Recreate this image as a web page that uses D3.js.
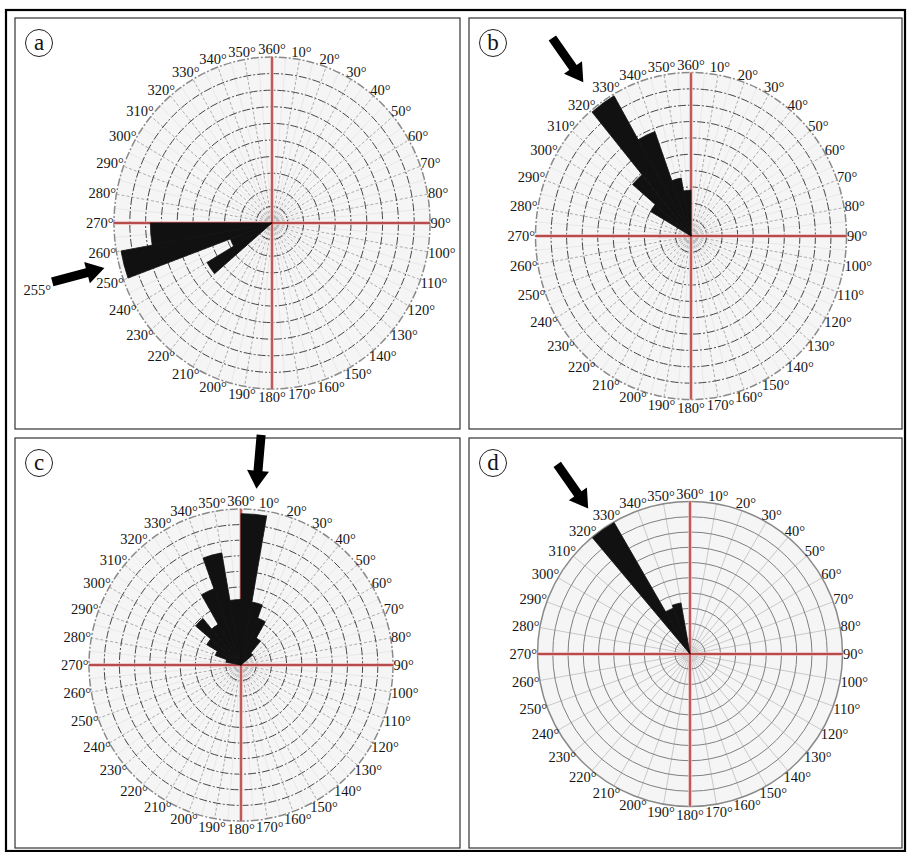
<!DOCTYPE html>
<html>
<head>
<meta charset="utf-8">
<script src="https://cdn.jsdelivr.net/npm/d3@7/dist/d3.min.js"></script>
<style>
  body { margin: 0; background: #fff; }
  text { font-family: 'Liberation Serif', 'DejaVu Serif', serif; fill: #151515; }
</style>
</head>
<body>
<svg id="chart" width="907" height="852"></svg>
<script>
// degree labels round each rose, clockwise from north
var degreeLabels = d3.range(10, 361, 10)
// grid rings (frequency units)
var ringValues = d3.range(1, 11)

// petals: [bin start in degrees, length in ring units], each bin 10 degrees wide
var roseA = [[230, 4.75], [240, 2.8], [250, 9.7], [260, 7.7]]
var roseB = [[300, 3.0], [310, 4.9], [320, 9.9], [330, 6.8], [340, 3.6], [350, 2.8]]
var roseC = [[280, 1.0], [290, 1.8], [300, 2.6], [310, 3.9], [320, 3.0], [330, 5.2],
             [340, 7.3], [350, 4.2], [0, 9.7], [10, 4.1], [20, 3.2], [30, 2.0], [40, 1.0]]
var roseD = [[320, 9.95], [330, 3.2], [340, 3.4]]

// main direction marked by the arrow in each panel
var mainDirection = { a: 255, b: 325, c: 5, d: 325 }

var svg = d3.select('#chart')
var rad = function (deg) { return deg * Math.PI / 180 }

// outer frame
svg.append('rect')
  .attr('x', 6).attr('y', 10).attr('width', 899).attr('height', 841)
  .attr('fill', 'none').attr('stroke', '#000').attr('stroke-width', 2.2)

var panels = [
  { id: 'a', box: [15, 18, 445, 411], cx: 272, cy: 223, rx: 158, ry: 166, rose: roseA, dashed: true, gap: 15, tag: '255°' },
  { id: 'b', box: [469, 18, 433, 411], cx: 691, cy: 236, rx: 155.5, ry: 163.5, rose: roseB, dashed: true, gap: 27 },
  { id: 'c', box: [15, 438, 445, 410], cx: 241, cy: 665, rx: 152, ry: 156, rose: roseC, dashed: true, gap: 21 },
  { id: 'd', box: [469, 438, 433, 410], cx: 690, cy: 654, rx: 152.5, ry: 152.5, rose: roseD, dashed: false, gap: 25 }
]

panels.forEach(function (p) {
  var g = svg.append('g')

  g.append('rect')
    .attr('x', p.box[0]).attr('y', p.box[1])
    .attr('width', p.box[2]).attr('height', p.box[3])
    .attr('fill', '#fff').attr('stroke', '#333').attr('stroke-width', 1.2)

  // panel letter in a circle
  g.append('circle')
    .attr('cx', p.box[0] + 24).attr('cy', p.box[1] + 25).attr('r', 13.5)
    .attr('fill', 'none').attr('stroke', '#222').attr('stroke-width', 1)
  g.append('text')
    .attr('x', p.box[0] + 24).attr('y', p.box[1] + 32)
    .attr('text-anchor', 'middle').attr('font-size', 23)
    .text(p.id)

  var r = d3.scaleLinear().domain([0, 10]).range([0, p.rx])

  // rose drawn round the origin, squashed to the panel's ellipse
  var plot = g.append('g')
    .attr('transform', 'translate(' + p.cx + ',' + p.cy + ') scale(1,' + (p.ry / p.rx) + ')')

  plot.append('circle').attr('r', r(10)).attr('fill', '#f5f5f5')

  // fine spokes every 5 degrees
  if (p.dashed) {
    plot.selectAll('line.fine')
      .data(d3.range(5, 360, 10))
      .enter().append('line')
      .attr('x1', 0).attr('y1', 0)
      .attr('x2', function (d) { return r(10) * Math.sin(rad(d)) })
      .attr('y2', function (d) { return -r(10) * Math.cos(rad(d)) })
      .attr('stroke', '#e2e2e2').attr('stroke-width', 0.7)
      .attr('vector-effect', 'non-scaling-stroke')
  }

  // spokes every 10 degrees
  plot.selectAll('line.spoke')
    .data(d3.range(0, 360, 10))
    .enter().append('line')
    .attr('x1', 0).attr('y1', 0)
    .attr('x2', function (d) { return r(10) * Math.sin(rad(d)) })
    .attr('y2', function (d) { return -r(10) * Math.cos(rad(d)) })
    .attr('stroke', p.dashed ? '#9a9a9a' : '#c4c4c4')
    .attr('stroke-width', p.dashed ? 0.8 : 0.9)
    .attr('stroke-dasharray', p.dashed ? '3,2' : null)
    .attr('vector-effect', 'non-scaling-stroke')

  // rings
  plot.selectAll('circle.ring')
    .data(ringValues)
    .enter().append('circle')
    .attr('r', function (d) { return r(d) })
    .attr('fill', 'none')
    .attr('stroke', function (d) { return d === 10 ? '#8a8a8a' : (p.dashed ? '#464646' : '#808080') })
    .attr('stroke-width', function (d) { return d === 10 ? 1.5 : 1.0 })
    .attr('stroke-dasharray', p.dashed ? '8,2,2,2' : null)
    .attr('vector-effect', 'non-scaling-stroke')

  plot.append('circle').attr('r', r(0.5))
    .attr('fill', 'none').attr('stroke', '#bbb').attr('stroke-width', 0.7)
    .attr('stroke-dasharray', p.dashed ? '2,2' : null)
    .attr('vector-effect', 'non-scaling-stroke')

  // red cross through the centre
  var cross = [[-1, 0, 1, 0], [0, -1, 0, 1]]
  ;[['#ebb8b8', 3.5], ['#a52828', 1.3]].forEach(function (s) {
    plot.selectAll(null)
      .data(cross)
      .enter().append('line')
      .attr('x1', function (d) { return d[0] * r(10) })
      .attr('y1', function (d) { return d[1] * r(10) })
      .attr('x2', function (d) { return d[2] * r(10) })
      .attr('y2', function (d) { return d[3] * r(10) })
      .attr('stroke', s[0]).attr('stroke-width', s[1])
      .attr('vector-effect', 'non-scaling-stroke')
  })

  // petals
  var arc = d3.arc()
    .innerRadius(0)
    .outerRadius(function (d) { return r(d[1]) })
    .startAngle(function (d) { return rad(d[0]) })
    .endAngle(function (d) { return rad(d[0] + 10) })

  plot.selectAll('path.petal')
    .data(p.rose)
    .enter().append('path')
    .attr('d', arc)
    .attr('fill', '#111')
    .attr('stroke', '#111').attr('stroke-width', 0.8)
    .attr('stroke-linejoin', 'round')
    .attr('vector-effect', 'non-scaling-stroke')

  // degree labels just outside the rim
  g.selectAll('text.deg')
    .data(degreeLabels)
    .enter().append('text')
    .attr('font-size', 14.5)
    .attr('text-anchor', 'middle')
    .attr('x', function (d) {
      var w = String(d).length * 7.2 + 5
      return p.cx + (p.rx + w / 2 + 1) * Math.sin(rad(d))
    })
    .attr('y', function (d) {
      return p.cy - (p.ry + 8) * Math.cos(rad(d)) + 5
    })
    .text(function (d) { return d + '°' })

  // arrow pointing at the main direction
  var th = rad(mainDirection[p.id])
  var rimR = 1 / Math.sqrt(Math.pow(Math.sin(th) / p.rx, 2) + Math.pow(Math.cos(th) / p.ry, 2))
  var tipR = rimR + p.gap
  var tip = [p.cx + tipR * Math.sin(th), p.cy - tipR * Math.cos(th)]
  var len = 54
  var shape = [[0, 0], [-18, -11], [-18, -4.5], [-len, -4.5], [-len, 4.5], [-18, 4.5], [-18, 11]]
  // local x axis points inward, toward the centre
  var ang = Math.atan2(Math.cos(th), -Math.sin(th)) * 180 / Math.PI
  g.append('path')
    .attr('d', d3.line()(shape) + 'Z')
    .attr('transform', 'translate(' + tip[0] + ',' + tip[1] + ') rotate(' + ang + ')')
    .attr('fill', '#000')

  if (p.tag) {
    var tail = [tip[0] + len * Math.sin(th), tip[1] - len * Math.cos(th)]
    g.append('text')
      .attr('x', tail[0] - 15).attr('y', tail[1] + 13)
      .attr('text-anchor', 'middle').attr('font-size', 14.5)
      .text(p.tag)
  }
})
</script>
</body>
</html>
